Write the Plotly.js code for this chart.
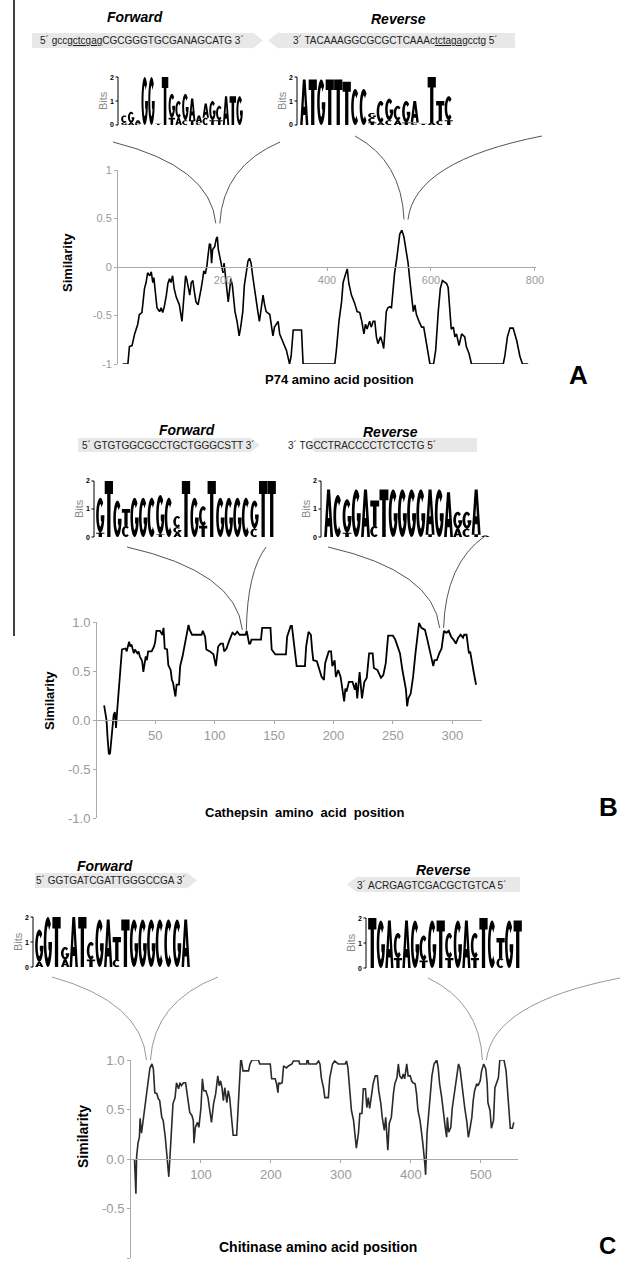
<!DOCTYPE html>
<html><head><meta charset="utf-8">
<script src="https://cdn.plot.ly/plotly-3.0.1.min.js"></script>
<style>body{margin:0;background:#fff}#c{width:620px;height:1263px}</style>
</head><body><div id="c"></div>
<script>
const W=620,H=1263;
// ---------- DATA ----------
const posA=[7,17,20,25,30,36,39,44,49,52,55,59,62,65,67,70,73,78,81,84,87,91,94,97,100,103,106,110,113,116,121,124,128,130,133,136,139,142,145,148,152,155,158,161,163,166,169,171,174,176,178,180,184,187,189,191,193,196,200,202,205,207,210,213,215,218,220,223,227,231,234,238,241,245,248,251,254,257,261,264,267,270,274,277,280,283,290,296,299,302,306,309,315,322,328,331,335,351,354,415,418,423,428,431,436,439,442,447,453,458,463,467,471,474,477,482,485,489,492,495,498,503,507,509,512,514,517,521,524,527,530,534,537,540,544,548,550,553,556,559,562,566,569,572,577,582,586,591,598,605,609,614,618,622,627,630,633,636,639,643,646,649,654,659,665,668,673,678,739,742,747,752,758,765,771,776,787];
const simA=[-1,-1,-0.82,-0.81,-0.69,-0.59,-0.49,-0.47,-0.22,-0.16,-0.06,-0.09,-0.05,-0.16,-0.11,-0.26,-0.42,-0.46,-0.42,-0.47,-0.41,-0.29,-0.17,-0.12,-0.16,-0.09,-0.22,-0.31,-0.36,-0.39,-0.56,-0.32,-0.09,-0.12,-0.22,-0.29,-0.16,-0.14,-0.26,-0.36,-0.39,-0.32,-0.22,-0.12,-0.04,-0.07,0.01,0.11,0.24,0.23,0.04,0.18,0.21,0.29,0.31,0.18,0.13,0.03,-0.06,0.04,-0.09,-0.22,-0.36,-0.22,-0.12,-0.19,-0.32,-0.46,-0.56,-0.71,-0.62,-0.46,-0.19,-0.04,0.06,0.09,0.04,-0.09,-0.26,-0.36,-0.46,-0.56,-0.42,-0.29,-0.39,-0.46,-0.49,-0.71,-0.62,-0.59,-0.56,-0.69,-0.76,-0.86,-1,-0.92,-0.65,-0.65,-1,-1,-0.86,-0.56,-0.36,-0.16,-0.07,-0.02,-0.17,-0.29,-0.37,-0.46,-0.47,-0.56,-0.69,-0.59,-0.64,-0.56,-0.62,-0.56,-0.56,-0.72,-0.79,-0.72,-0.79,-0.84,-0.62,-0.46,-0.42,-0.41,-0.42,-0.19,-0.06,0.08,0.24,0.34,0.38,0.31,0.24,0.14,0.04,-0.12,-0.29,-0.46,-0.39,-0.49,-0.56,-0.62,-0.62,-0.79,-1,-1,-0.86,-0.46,-0.22,-0.14,-0.16,-0.17,-0.21,-0.42,-0.64,-0.62,-0.72,-0.69,-0.81,-0.69,-0.72,-0.82,-0.89,-1,-1,-0.92,-0.72,-0.63,-0.63,-0.76,-0.92,-1,-1];

const posB=[7,9,10,11,12,13,14,15,16,17,18,20,21,22,25,26,28,29,30,32,33,35,36,37,39,40,42,43,44,47,49,50,51,54,56,57,58,60,61,63,64,65,67,68,70,71,73,75,77,78,79,81,89,90,92,93,96,99,101,103,105,107,108,110,112,114,115,117,119,121,126,127,129,130,131,139,140,147,148,151,160,161,164,165,167,168,169,176,177,179,181,182,183,186,188,190,192,193,196,198,199,201,202,204,206,207,209,210,211,213,216,218,219,220,222,224,226,228,229,230,233,234,237,240,242,244,246,250,252,254,256,258,261,262,263,265,267,269,271,272,274,277,279,280,282,283,284,285,287,289,291,293,295,297,299,301,303,305,307,309,310,312,313,314,315,317,318,320];
const simB=[0.15,0.0,-0.2,-0.35,-0.34,-0.2,-0.05,0.05,0.08,-0.08,0.1,0.39,0.61,0.72,0.73,0.70,0.80,0.75,0.77,0.68,0.72,0.68,0.70,0.65,0.60,0.49,0.65,0.61,0.70,0.70,0.75,0.80,0.91,0.91,0.87,0.94,0.73,0.72,0.56,0.51,0.41,0.38,0.24,0.36,0.36,0.55,0.65,0.78,0.89,0.97,0.92,0.87,0.87,0.91,0.85,0.72,0.70,0.67,0.55,0.75,0.78,0.78,0.70,0.73,0.80,0.85,0.89,0.87,0.90,0.87,0.87,0.91,0.78,0.78,0.82,0.82,0.94,0.94,0.72,0.67,0.67,0.85,0.96,0.96,0.75,0.70,0.55,0.55,0.75,0.90,0.87,0.72,0.61,0.60,0.51,0.44,0.41,0.58,0.70,0.70,0.55,0.61,0.44,0.51,0.44,0.34,0.19,0.32,0.29,0.39,0.39,0.31,0.38,0.22,0.49,0.22,0.39,0.43,0.58,0.68,0.68,0.53,0.51,0.43,0.46,0.58,0.86,0.86,0.82,0.75,0.68,0.51,0.31,0.14,0.22,0.27,0.44,0.68,0.87,0.99,0.94,0.92,0.82,0.77,0.67,0.61,0.55,0.61,0.61,0.68,0.73,0.91,0.89,0.91,0.85,0.82,0.78,0.84,0.87,0.84,0.87,0.87,0.75,0.68,0.70,0.58,0.49,0.36];

const posC=[5,7,8,10,12,13,15,18,20,22,25,27,30,32,34,37,39,41,44,46,49,51,53,54,56,58,60,63,65,68,70,72,75,78,80,82,84,87,89,90,92,95,97,100,102,104,107,110,113,115,118,121,124,126,128,130,132,134,137,139,141,144,146,151,153,156,157,160,168,170,173,182,184,199,201,206,208,210,211,213,216,218,222,225,230,232,240,241,251,252,254,265,268,270,272,275,277,282,284,288,291,296,306,308,310,313,315,318,320,322,325,327,330,332,335,337,339,341,344,346,349,352,354,357,359,362,364,367,369,372,375,377,380,382,384,387,389,391,394,396,399,401,403,406,408,410,413,415,417,420,421,423,426,428,430,433,437,439,441,444,446,449,451,452,454,457,459,462,465,468,470,472,475,477,480,482,484,487,489,491,494,496,499,501,504,507,509,510,513,515,518,520,522,525,527,533,536,538,540,542,545,547];
const simC=[0,-0.35,0.02,0.16,0.22,0.41,0.26,0.42,0.52,0.66,0.82,0.92,0.96,0.91,0.67,0.66,0.61,0.59,0.42,0.39,0.22,0.06,-0.09,-0.18,0.06,0.32,0.56,0.62,0.77,0.71,0.77,0.74,0.77,0.77,0.66,0.59,0.47,0.44,0.39,0.16,0.32,0.37,0.32,0.52,0.81,0.69,0.69,0.62,0.49,0.37,0.56,0.66,0.84,0.74,0.79,0.72,0.59,0.72,0.57,0.69,0.62,0.42,0.24,0.24,0.52,0.92,1.03,0.89,0.89,0.96,1.0,1.0,0.96,0.96,0.81,0.81,0.76,0.67,0.77,0.76,0.77,0.94,0.92,0.94,0.96,0.99,0.99,0.96,0.96,1.04,0.96,0.96,0.99,0.96,0.82,0.72,0.62,0.62,0.82,0.96,0.99,0.96,0.96,0.99,0.92,0.66,0.49,0.39,0.26,0.11,0.26,0.46,0.46,0.71,0.71,0.52,0.62,0.51,0.66,0.76,0.84,0.84,0.69,0.56,0.42,0.29,0.42,0.09,0.36,0.42,0.66,0.76,0.82,0.96,0.84,0.81,0.86,0.81,0.96,0.84,0.84,0.79,0.77,0.76,0.66,0.49,0.39,0.29,0.16,-0.06,-0.16,0.26,0.49,0.66,0.84,0.96,1.0,0.92,0.76,0.62,0.47,0.32,0.22,0.42,0.27,0.32,0.51,0.66,0.82,0.96,0.92,0.79,0.66,0.51,0.37,0.22,0.29,0.42,0.59,0.69,0.76,0.74,0.79,0.89,0.96,0.91,0.76,0.57,0.49,0.31,0.39,0.72,0.76,0.82,1.0,1.0,0.89,0.69,0.49,0.31,0.31,0.37];

const ticksA=[200,400,600,800], ticksB=[50,100,150,200,250,300], ticksC=[100,200,300,400,500];
const yTicks=[-1,-0.5,0,0.5,1];
const yLabelsA=['-1','-0.5','0','0.5','1'];
const yLabelsBC=['-1.0','-0.5','0.0','0.5','1.0'];

// sequence logos: columns, letters bottom-to-top with bits
const logoAFwd=[[['G',0.1],['C',0.3]],[['A',0.1],['G',0.45]],[['C',0.05],['A',0.15]],[['G',2.0]],[['G',2.0]],[['T',0.05]],[['T',2.0]],[['T',0.3],['G',1.0]],[['A',0.3],['C',0.7]],[['C',0.2],['G',1.1]],[['T',0.2],['A',0.9]],[['C',0.1],['A',0.3]],[['C',0.3],['A',0.6]],[['T',0.2],['G',0.8]],[['T',0.2],['C',0.6]],[['A',1.2]],[['T',1.2]],[['G',1.2]]];
const logoARev=[[['A',1.9]],[['T',1.9]],[['G',1.9]],[['T',1.9]],[['T',1.9]],[['T',1.8]],[['C',1.5]],[['C',1.5]],[['T',0.1],['C',0.2],['G',0.2]],[['A',0.1],['C',0.9]],[['C',0.2],['G',0.9]],[['A',0.2],['C',0.6]],[['T',0.1],['G',0.9]],[['C',0.1],['A',0.9]],[['T',0.05]],[['A',0.1],['T',1.9]],[['C',0.2],['T',0.8]],[['T',0.2],['C',1.0]]];
const logoBFwd=[[['T',0.15],['G',1.25]],[['T',2.0]],[['G',1.3]],[['C',0.4],['T',0.6]],[['G',1.4]],[['G',1.4]],[['C',1.4]],[['T',0.1],['G',1.4]],[['C',1.4]],[['A',0.15],['G',0.2],['C',0.4]],[['T',2.0]],[['G',1.4]],[['T',0.4],['C',0.7]],[['T',2.0]],[['G',1.4]],[['G',1.4]],[['G',1.4]],[['C',1.4]],[['C',0.3],['G',1.0]],[['T',2.0]],[['T',2.0]]];
const logoBRev=[[['A',1.7]],[['C',1.5]],[['T',0.15],['G',1.2]],[['G',1.7]],[['A',1.7]],[['C',0.4],['T',0.9]],[['T',1.7]],[['G',1.7]],[['G',1.7]],[['G',1.7]],[['G',1.7]],[['T',0.1],['A',1.6]],[['G',1.7]],[['A',1.6]],[['A',0.3],['G',0.6]],[['C',0.3],['G',0.6]],[['T',0.1],['A',1.6]],[['A',0.05]]];
const logoCFwd=[[['A',0.2],['G',1.3]],[['G',2.0]],[['T',2.0]],[['A',0.3],['G',0.5]],[['A',2.0]],[['T',2.0]],[['T',0.3],['C',0.7]],[['G',1.9]],[['A',1.9]],[['C',0.3],['T',0.9]],[['T',1.9]],[['G',1.9]],[['G',1.9]],[['G',1.9]],[['C',1.9]],[['C',1.9]],[['G',1.9]],[['A',1.9]]];
const logoCRev=[[['T',2.0]],[['G',1.9]],[['A',1.9]],[['T',0.4],['C',1.0]],[['A',1.9]],[['G',1.9]],[['T',0.3],['C',1.0]],[['G',1.9]],[['T',1.9]],[['T',0.4],['C',1.0]],[['G',1.9]],[['A',1.9]],[['T',0.4],['C',1.0]],[['T',2.0]],[['C',1.9]],[['C',0.4],['T',0.8]],[['G',1.9]],[['T',1.9]]];

const primers={
 AF:'5´ gccg<span style="text-decoration:underline">ctcgag</span>CGCGGGTGCGANAGCATG 3´',
 AR:'3´ TACAAAGGCGCGCTCAAAc<span style="text-decoration:underline">tctaga</span>gcctg 5´',
 BF:'5´ GTGTGGCGCCTGCTGGGCSTT 3´',
 BR:'3´ TGCCTRACCCCTCTCCTG 5´',
 CF:'5´ GGTGATCGATTGGGCCGA 3´',
 CR:'3´ ACRGAGTCGACGCTGTCA 5´'
};
// primer-site peaks the connectors point to: [position, similarity]
const siteA=[[190,0.45],[552,0.49]], siteB=[[125,0.92],[291,0.94]], siteC=[[25,1.0],[505,1.0]];

// ---------- LAYOUT (pixels) ----------
const FONT='Liberation Sans, Arial, sans-serif';
const P={
 A:{x0:118,x1:536,xr:[-2,802],yt:170,yb:364},
 B:{x0:97,x1:482,xr:[1,325],yt:622,yb:818},
 C:{x0:131,x1:518,xr:[0,553],yt:1060,yb:1258}
};
const px=x=>x/W, py=y=>1-y/H;
function dx(p,v){return p.x0+(v-p.xr[0])/(p.xr[1]-p.xr[0])*(p.x1-p.x0);}
function dy(p,v){return p.yb-(v+1)/2*(p.yb-p.yt);}

const shapes=[], annotations=[];
function ann(text,x,y,size,o){annotations.push(Object.assign({text,x:px(x),y:py(y),xref:'paper',yref:'paper',showarrow:false,xanchor:'center',yanchor:'middle',font:{family:FONT,size,color:'#000'}},o||{}));}
function pstr(pts){return 'M'+pts.map(q=>px(q[0]).toFixed(5)+','+py(q[1]).toFixed(5)).join('L')+'Z';}

function ell(cx,cy,rx,ry,a0,a1,n){const r=[];for(let i=0;i<=n;i++){const a=(a0+(a1-a0)*i/n)*Math.PI/180;r.push([cx+rx*Math.cos(a),cy+ry*Math.sin(a)]);}return r;}
const GLYPH={
 T:[[[0,1],[1,1],[1,0.77],[0.7,0.77],[0.7,0],[0.3,0],[0.3,0.77],[0,0.77]]],
 A:[[[0,0],[0.33,1],[0.67,1],[1,0],[0.7,0],[0.63,0.22],[0.37,0.22],[0.3,0]],[[0.42,0.4],[0.5,0.68],[0.58,0.4]]],
 C:[ell(.5,.5,.5,.5,48,312,28).concat(ell(.5,.5,.19,.32,312,48,28))],
 G:[ell(.5,.5,.5,.5,45,360,30).concat([[0.56,0.5],[0.56,0.36]]).concat(ell(.5,.5,.19,.32,325,45,28))]
};
function drawLogo(cols,ax,x0,x1,base,pxBit,bitsX){
 const w=(x1-x0)/cols.length; let path='';
 cols.forEach((col,i)=>{let acc=0;col.forEach(([l,b])=>{const h=b*pxBit,gx=x0+i*w+0.15,gw=w-0.3;
   GLYPH[l].forEach(poly=>{path+=pstr(poly.map(([u,v])=>[gx+u*gw,base-acc-v*h]));});acc+=h;});});
 shapes.push({type:'path',xref:'paper',yref:'paper',path,fillcolor:'#000',line:{width:0},fillrule:'evenodd',layer:'above'});
 shapes.push({type:'line',xref:'paper',yref:'paper',x0:px(ax),x1:px(ax),y0:py(base),y1:py(base-2*pxBit),line:{color:'#000',width:1}});
 [0,1,2].forEach(k=>{shapes.push({type:'line',xref:'paper',yref:'paper',x0:px(ax-2.5),x1:px(ax),y0:py(base-k*pxBit),y1:py(base-k*pxBit),line:{color:'#000',width:1}});
   ann('<b>'+k+'</b>',ax-2.5,base-k*pxBit,7,{xanchor:'right',font:{family:FONT,size:7,color:'#000'}});});
 ann('Bits',bitsX,base-pxBit,11,{textangle:-90,font:{family:FONT,size:11,color:'#8a8a8a'}});
}
function arrow(x0,x1,y0,y1,dir){const ym=(y0+y1)/2;let pts;
 if(dir>0)pts=[[x0,y0],[x1-11,y0],[x1-11,y0-1],[x1,ym],[x1-11,y1+1],[x1-11,y1],[x0,y1]];
 else pts=[[x1,y0],[x0+11,y0],[x0+11,y0-1],[x0,ym],[x0+11,y1+1],[x0+11,y1],[x1,y1]];
 shapes.push({type:'path',xref:'paper',yref:'paper',path:pstr(pts),fillcolor:'#e8e8e8',line:{width:0},layer:'below'});}
function curve(ox,oy,mx,my,color){const cx=mx-0.05*(mx-ox),cy=oy+0.3*(my-oy);
 shapes.push({type:'path',xref:'paper',yref:'paper',path:`M${px(ox)},${py(oy)}Q${px(cx)},${py(cy)} ${px(mx)},${py(my)}`,line:{color,width:1}});}
function connectors(p,site,ends,color){site.forEach((s,i)=>{const mx=dx(p,s[0]),my=dy(p,s[1]);const e=ends[i];
 curve(e[0],e[1],mx-2,my,color);curve(e[2],e[3],mx+2,my,color);});}

// left border line
shapes.push({type:'line',xref:'paper',yref:'paper',x0:px(14),x1:px(14),y0:py(0),y1:py(636),line:{color:'#000',width:1.5}});

// Panel A decorations
ann('<b><i>Forward</i></b>',135,17,14); ann('<b><i>Reverse</i></b>',398,19,14);
arrow(32,263,33,48,1); arrow(268,515,33,48,-1);
ann(primers.AF,142,41,10,{font:{family:FONT,size:10,color:'#222'}});
ann(primers.AR,395,41,10,{font:{family:FONT,size:10,color:'#222'}});
drawLogo(logoAFwd,118,121,243,125,24,103);
drawLogo(logoARev,297,300,453,125,24,282);
connectors(P.A,siteA,[[113,142,280,142],[355,136,542,136]],'#555');
// Panel B decorations
ann('<b><i>Forward</i></b>',187,430,14); ann('<b><i>Reverse</i></b>',390,432,14);
arrow(78,260,438,452,1); arrow(305,477,438,452,-1);
ann(primers.BF,168,445,10,{font:{family:FONT,size:10,color:'#222'}});
ann(primers.BR,362,445,10,{font:{family:FONT,size:10,color:'#222'}});
drawLogo(logoBFwd,94,96,276,537,28,79);
drawLogo(logoBRev,321,324,490,537,28,306);
connectors(P.B,siteB,[[127,547,266,547],[328,547,485,536]],'#555');
// Panel C decorations
ann('<b><i>Forward</i></b>',105,866,14); ann('<b><i>Reverse</i></b>',443,870,14);
arrow(35,197,873,888,1); arrow(347,520,877,892,-1);
ann(primers.CF,111,880,10,{font:{family:FONT,size:10,color:'#222'}});
ann(primers.CR,431,885,10,{font:{family:FONT,size:10,color:'#222'}});
drawLogo(logoCFwd,33,35,190,967,25,18);
drawLogo(logoCRev,366,368,522,968,25,351);
connectors(P.C,siteC,[[52,977,218,977],[428,978,620,978]],'#999');

// axis titles and panel letters
ann('<b>Similarity</b>',67,263,13,{textangle:-90});
ann('<b>P74 amino acid position</b>',339,380,13);
ann('<b>A</b>',578,375,26);
ann('<b>Similarity</b>',49,700,13,{textangle:-90});
ann('<b>Cathepsin&nbsp; amino&nbsp; acid&nbsp; position</b>',304,812,13);
ann('<b>B</b>',608,807,26);
ann('<b>Similarity</b>',83,1137,14,{textangle:-90});
ann('<b>Chitinase amino acid position</b>',318,1247,14);
ann('<b>C</b>',607,1245,24);

function axisPair(p,ticks,ylab,fs){
 const zero=dy(p,0);
 const common={showgrid:false,zeroline:false,showline:true,linecolor:'#aaa',linewidth:1,ticks:'outside',ticklen:3,tickcolor:'#aaa',tickfont:{family:FONT,size:fs,color:'#9a9a9a'},fixedrange:true};
 return [Object.assign({},common,{domain:[px(p.x0),px(p.x1)],range:p.xr,anchor:'free',position:py(zero),tickmode:'array',tickvals:ticks,ticktext:ticks.map(String)}),
         Object.assign({},common,{domain:[py(p.yb),py(p.yt)],range:[-1,1],tickmode:'array',tickvals:yTicks,ticktext:ylab})];
}
const [xa,ya]=axisPair(P.A,ticksA,yLabelsA,11);
const [xb,yb]=axisPair(P.B,ticksB,yLabelsBC,13);
const [xc,yc]=axisPair(P.C,ticksC,yLabelsBC,13);
ya.anchor='x'; yb.anchor='x2'; yc.anchor='x3';

const traces=[
 {x:posA,y:simA,xaxis:'x',yaxis:'y',mode:'lines',line:{color:'#000',width:1.6},hoverinfo:'skip'},
 {x:posB,y:simB,xaxis:'x2',yaxis:'y2',mode:'lines',line:{color:'#000',width:1.8},hoverinfo:'skip'},
 {x:posC,y:simC,xaxis:'x3',yaxis:'y3',mode:'lines',line:{color:'#2a2a2a',width:1.6},hoverinfo:'skip'}
];
const layout={width:W,height:H,margin:{l:0,r:0,t:0,b:0},paper_bgcolor:'#fff',plot_bgcolor:'rgba(0,0,0,0)',showlegend:false,
 xaxis:xa,yaxis:ya,xaxis2:xb,yaxis2:yb,xaxis3:xc,yaxis3:yc,shapes,annotations,font:{family:FONT}};
Plotly.newPlot('c',traces,layout,{staticPlot:true,displayModeBar:false});
</script></body></html>
